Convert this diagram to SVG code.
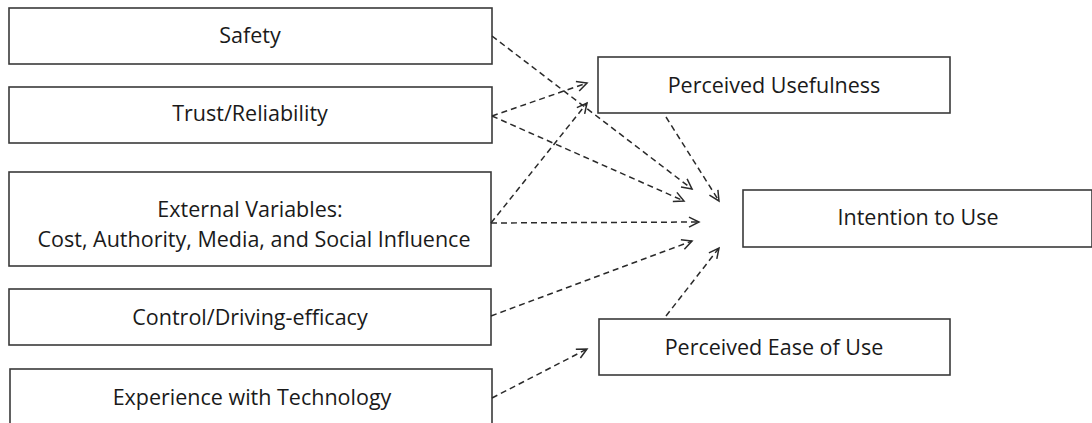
<svg xmlns="http://www.w3.org/2000/svg" width="1092" height="423" viewBox="0 0 1092 423">
<style>
.box{fill:#fff;stroke:#3a3a3a;stroke-width:1.6}
.t{font-family:"Open Sans","Liberation Sans",sans-serif;font-size:21.5px;fill:#1a1a1a;text-anchor:middle}
.c{fill:none;stroke:#2a2a2a;stroke-width:1.5;stroke-dasharray:6,4;marker-end:url(#arr)}
</style>
<defs>
<marker id="arr" markerUnits="userSpaceOnUse" markerWidth="14" markerHeight="14" refX="11" refY="6" orient="auto" viewBox="0 0 14 12">
<path d="M1,1 L11,6 L1,11" fill="none" stroke="#2a2a2a" stroke-width="1.5"/>
</marker>
</defs>
<rect width="1092" height="423" fill="#fff"/>
<g id="safety"><rect class="box" x="9" y="8" width="483" height="56"/><text class="t" x="250" y="43">Safety</text></g>
<g id="trust"><rect class="box" x="9" y="87" width="483" height="56"/><text class="t" x="250" y="121">Trust/Reliability</text></g>
<g id="external"><rect class="box" x="9" y="172" width="482" height="94"/><text class="t" x="250" y="217">External Variables:</text><text class="t" x="254" y="247">Cost, Authority, Media, and Social Influence</text></g>
<g id="control"><rect class="box" x="9" y="289" width="482" height="56"/><text class="t" x="250" y="325">Control/Driving-efficacy</text></g>
<g id="experience"><rect class="box" x="10" y="369" width="482" height="60"/><text class="t" x="252" y="405">Experience with Technology</text></g>
<g id="usefulness"><rect class="box" x="598" y="57" width="352" height="56"/><text class="t" x="774" y="93">Perceived Usefulness</text></g>
<g id="intention"><rect class="box" x="743" y="190" width="349" height="57"/><text class="t" x="918" y="225">Intention to Use</text></g>
<g id="ease"><rect class="box" x="599" y="319" width="351" height="56"/><text class="t" x="774" y="355">Perceived Ease of Use</text></g>
<g id="connectors">
<line class="c" x1="492" y1="36" x2="692" y2="189"/>
<line class="c" x1="492" y1="116" x2="587" y2="83"/>
<line class="c" x1="492" y1="116" x2="684" y2="201"/>
<line class="c" x1="491" y1="223" x2="587" y2="103"/>
<line class="c" x1="491" y1="223" x2="699" y2="222"/>
<line class="c" x1="666" y1="117" x2="719" y2="201"/>
<line class="c" x1="491" y1="316" x2="692" y2="241"/>
<line class="c" x1="666" y1="316" x2="719" y2="248"/>
<line class="c" x1="492" y1="398" x2="587" y2="349"/>
</g>
</svg>
